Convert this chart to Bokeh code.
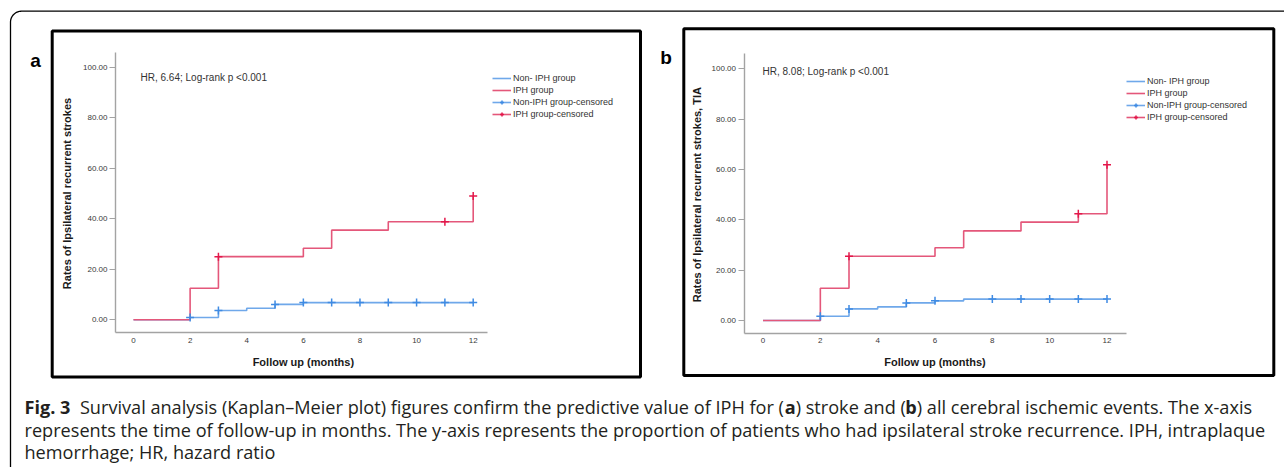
import os
import glob
import subprocess
import numpy as np
from bokeh.plotting import figure
from bokeh.models import (Range1d, LinearAxis, FixedTicker, PrintfTickFormatter,
                          Legend, LegendItem, BoxAnnotation)
from bokeh.core.properties import value
from bokeh.embed import file_html
from bokeh.resources import INLINE

# ---------------- data ----------------
x_ticks = [0, 2, 4, 6, 8, 10, 12]
y_ticks = [0, 20, 40, 60, 80, 100]

# panel a : stroke
a_non_t = [0, 2, 3, 4, 5, 6, 12]
a_non_v = [0.0, 0.9, 3.7, 4.6, 6.1, 6.8, 6.8]
a_iph_t = [0, 2, 3, 6, 7, 9, 12]
a_iph_v = [0.0, 12.5, 25.0, 28.3, 35.5, 38.8, 49.0]
a_non_cens_t = [2, 3, 5, 6, 7, 8, 9, 10, 11, 12]
a_non_cens_v = [0.9, 3.7, 6.1, 6.8, 6.8, 6.8, 6.8, 6.8, 6.8, 6.8]
a_iph_cens_t = [3, 11, 12]
a_iph_cens_v = [25.0, 38.8, 49.0]

# panel b : stroke + TIA
b_non_t = [0, 2, 3, 4, 5, 6, 7, 12]
b_non_v = [0.0, 1.7, 4.6, 5.4, 7.0, 7.8, 8.5, 8.5]
b_iph_t = [0, 2, 3, 6, 7, 9, 11, 12]
b_iph_v = [0.0, 12.8, 25.5, 28.9, 35.6, 39.1, 42.4, 61.9]
b_non_cens_t = [2, 3, 5, 6, 8, 9, 10, 11, 12]
b_non_cens_v = [1.7, 4.6, 7.0, 7.8, 8.5, 8.5, 8.5, 8.5, 8.5]
b_iph_cens_t = [3, 11, 12]
b_iph_cens_v = [25.5, 42.4, 61.9]

panel_letters = ["a", "b"]
x_label = "Follow up (months)"
y_label_a = "Rates of Ipsilateral recurrent strokes"
y_label_b = "Rates of Ipsilateral recurrent strokes, TIA"
stat_a = "HR, 6.64; Log-rank p <0.001"
stat_b = "HR, 8.08; Log-rank p <0.001"
legend_labels = ["Non- IPH group", "IPH group", "Non-IPH group-censored", "IPH group-censored"]

caption_line1 = ["Fig. 3",
                 "Survival analysis (Kaplan\u2013Meier plot) figures confirm the predictive value of IPH for (",
                 "a", ") stroke and (", "b", ") all cerebral ischemic events. The x-axis"]
caption_line1_bold = [True, False, True, False, True, False]
caption_line2 = ("represents the time of follow-up in months. The y-axis represents the proportion "
                 "of patients who had ipsilateral stroke recurrence. IPH, intraplaque")
caption_line3 = "hemorrhage; HR, hazard ratio"

# ---------------- styles / geometry ----------------
BLUE_LINE = "#6fa8ea"
RED_LINE = "#e4577a"
BLUE_CENS = "#3f8be3"
RED_CENS = "#e3174a"
AXIS_GRAY = "#a3a3a3"
TXT = "#333333"
CAP_TXT = "#231f20"
PLOT_FONT = "Liberation Sans"
CAP_FONT = "Open Sans"

W, H = 1284, 467
PX0, PY0 = 0, 0          # picture offset of the canvas

GEO = {
    "a": dict(x0=133.0, x12=472.7, y0=319.3, y100=66.7, axis_x=115.0, axis_y=332.3,
              axis_top=52.0, axis_right=487.0, box=(51.7, 30.5, 640.0, 376.5),
              letter=(35.0, 60.0), stat=(140.0, 77.0), legend=(492.0, 73.3),
              ylab_x=66.5, xlab_y=361.7),
    "b": dict(x0=762.5, x12=1106.5, y0=320.0, y100=68.3, axis_x=743.5, axis_y=332.7,
              axis_top=53.0, axis_right=1125.7, box=(683.3, 28.3, 1273.3, 375.0),
              letter=(665.5, 57.0), stat=(762.0, 70.7), legend=(1126.0, 75.7),
              ylab_x=696.0, xlab_y=361.7),
}

p = figure(width=W, height=H, x_range=Range1d(PX0, PX0 + W), y_range=Range1d(PY0 + H, PY0),
           x_axis_type=None, y_axis_type=None, output_backend="svg", toolbar_location=None,
           min_border=0, outline_line_color=None, background_fill_color="white",
           border_fill_color="white")
p.grid.visible = False

# outer rounded frame (top + left edge)
r = 11.0
fx, fy = 10.0, 10.7
t = np.linspace(np.pi, 1.5 * np.pi, 24)
fxs = [fx] + list(fx + r + r * np.cos(t)) + [PX0 + W]
fys = [PY0 + H] + list(fy + r + r * np.sin(t)) + [fy]
p.line(fxs, fys, line_color="black", line_width=1.3)


def lin_range(d0, p0, d1, p1, q0, q1):
    k = (d1 - d0) / (p1 - p0)
    return Range1d(start=d0 + (q0 - p0) * k, end=d0 + (q1 - p0) * k)


def p2d(d0, p0, d1, p1, q):
    return d0 + (q - p0) * (d1 - d0) / (p1 - p0)


def style_axis(ax):
    ax.axis_line_color = AXIS_GRAY
    ax.axis_line_width = 1.4
    ax.major_tick_line_color = AXIS_GRAY
    ax.major_tick_line_width = 1
    ax.minor_tick_line_color = None
    ax.major_label_text_font = PLOT_FONT
    ax.major_label_text_font_size = "8px"
    ax.major_label_text_color = "#3a3a3a"


panels = [
    ("a", a_non_t, a_non_v, a_iph_t, a_iph_v, a_non_cens_t, a_non_cens_v,
     a_iph_cens_t, a_iph_cens_v, y_label_a, stat_a),
    ("b", b_non_t, b_non_v, b_iph_t, b_iph_v, b_non_cens_t, b_non_cens_v,
     b_iph_cens_t, b_iph_cens_v, y_label_b, stat_b),
]

extra_x, extra_y = {}, {}
for key, *_ in panels:
    g = GEO[key]
    extra_x["x" + key] = lin_range(0, g["x0"], 12, g["x12"], PX0, PX0 + W)
    extra_y["y" + key] = lin_range(0, g["y0"], 100, g["y100"], PY0 + H, PY0)
p.extra_x_ranges = extra_x
p.extra_y_ranges = extra_y

for i, (key, nt, nv, it, iv, nct, ncv, ict, icv, ylab, stat) in enumerate(panels):
    g = GEO[key]
    xr, yr = "x" + key, "y" + key

    def dx(q, g=g):
        return p2d(0, g["x0"], 12, g["x12"], q)

    def dy(q, g=g):
        return p2d(0, g["y0"], 100, g["y100"], q)

    # panel box
    L, T, R, B = g["box"]
    p.add_layout(BoxAnnotation(left=L, right=R, top=T, bottom=B, fill_alpha=0,
                               line_color="black", line_alpha=1.0, line_width=3))

    # axes
    xa = LinearAxis(x_range_name=xr, y_range_name=yr, fixed_location=dy(g["axis_y"]),
                    bounds=(dx(g["axis_x"]), dx(g["axis_right"])),
                    ticker=FixedTicker(ticks=x_ticks))
    style_axis(xa)
    xa.major_tick_out = 0
    xa.major_tick_in = 0
    xa.major_label_standoff = 5
    p.add_layout(xa, "below")

    ya = LinearAxis(x_range_name=xr, y_range_name=yr, fixed_location=dx(g["axis_x"]),
                    bounds=(dy(g["axis_y"]), dy(g["axis_top"])),
                    ticker=FixedTicker(ticks=y_ticks),
                    formatter=PrintfTickFormatter(format="%.2f"))
    style_axis(ya)
    ya.major_tick_out = 6
    ya.major_tick_in = 0
    ya.major_label_standoff = 2
    p.add_layout(ya, "left")

    # curves
    r_non = p.step(nt, nv, mode="after", line_color=BLUE_LINE, line_width=1.6,
                   x_range_name=xr, y_range_name=yr)
    r_iph = p.step(it, iv, mode="after", line_color=RED_LINE, line_width=1.6,
                   x_range_name=xr, y_range_name=yr)
    r_nc = p.scatter(nct, ncv, marker="cross", size=8, line_color=BLUE_CENS, line_width=1.5,
                     x_range_name=xr, y_range_name=yr)
    r_ic = p.scatter(ict, icv, marker="cross", size=8, line_color=RED_CENS, line_width=1.5,
                     x_range_name=xr, y_range_name=yr)

    # texts
    lx, ly = g["letter"]
    p.text(x=[lx], y=[ly], text=[panel_letters[i]], text_font=value(PLOT_FONT),
           text_font_style="bold", text_font_size="19px", text_color="black",
           text_align="center", text_baseline="alphabetic")
    sx, sy = g["stat"]
    p.text(x=[sx], y=[sy], text=[stat], text_font=value(PLOT_FONT), text_font_size="10px",
           text_color=TXT, text_align="left", text_baseline="middle")
    p.text(x=[(g["x0"] + g["x12"]) / 2], y=[g["xlab_y"]], text=[x_label],
           text_font=value(PLOT_FONT), text_font_style="bold", text_font_size="11px",
           text_color="#1a1a1a", text_align="center", text_baseline="middle")
    p.text(x=[g["ylab_x"]], y=[(g["y0"] + g["y100"]) / 2], text=[ylab],
           text_font=value(PLOT_FONT), text_font_style="bold", text_font_size="11px",
           text_color="#1a1a1a", text_align="center", text_baseline="middle",
           angle=np.pi / 2)

    # legend
    row_h, spacing = 10, 2
    leg_h = 4 * row_h + 3 * spacing
    lgx, lgy = g["legend"]
    items = [LegendItem(label=legend_labels[0], renderers=[r_non]),
             LegendItem(label=legend_labels[1], renderers=[r_iph]),
             LegendItem(label=legend_labels[2], renderers=[r_non, r_nc]),
             LegendItem(label=legend_labels[3], renderers=[r_iph, r_ic])]
    leg = Legend(items=items, location=(lgx - PX0, (PY0 + H) - (lgy + leg_h)),
                 orientation="vertical", border_line_color=None, background_fill_alpha=0,
                 label_text_font=PLOT_FONT, label_text_font_size="9px", label_text_color=TXT,
                 glyph_width=19, glyph_height=row_h, label_height=row_h, label_standoff=2,
                 spacing=spacing, padding=0, margin=0)
    p.add_layout(leg)


# ---------------- caption ----------------
def _font_file(bold):
    names = (["OpenSans-Bold.ttf", "OpenSans-Bold.otf"] if bold else
             ["OpenSans-Regular.ttf", "OpenSans-Regular.otf"])
    for d in ["/usr/share/fonts", "/usr/local/share/fonts", os.path.expanduser("~/.fonts")]:
        for n in names:
            c = glob.glob(os.path.join(d, "**", n), recursive=True)
            if c:
                return c[0], False
    try:
        out = subprocess.run(["fc-match", "-f", "%{file}", "Open Sans:bold" if bold else "Open Sans"],
                             capture_output=True, text=True, timeout=10).stdout.strip()
        if out and os.path.exists(out):
            return out, bold
    except Exception:
        pass
    return None, False


def make_measure(bold):
    try:
        from PIL import ImageFont
        path, var = _font_file(bold)
        font = ImageFont.truetype(path, 100)
        if var:
            try:
                font.set_variation_by_name("Bold")
            except Exception:
                pass
        return lambda s, size: font.getlength(s) * size / 100.0
    except Exception:
        return lambda s, size: len(s) * (0.49 if bold else 0.455) * size


m_reg, m_bold = make_measure(False), make_measure(True)
cap_left, cap_right = 24.0, 1262.0


def line1_width(size):
    w = sum((m_bold if b else m_reg)(s, size) for s, b in zip(caption_line1, caption_line1_bold))
    return w + 2 * m_reg(" ", size)


base = 100.0
cap_size = (cap_right - cap_left) / max(line1_width(base), m_reg(caption_line2, base)) * base
cap_size = float(min(18.2, max(14.0, cap_size)))

xs1, x = [], cap_left
for j, (s, b) in enumerate(zip(caption_line1, caption_line1_bold)):
    xs1.append(x)
    x += (m_bold if b else m_reg)(s, cap_size)
    if j == 0:
        x += 2 * m_reg(" ", cap_size)

bold_idx = [j for j, b in enumerate(caption_line1_bold) if b]
reg_idx = [j for j, b in enumerate(caption_line1_bold) if not b]
base1, base2, base3 = 406.0, 429.0, 451.5
p.text(x=[xs1[j] for j in bold_idx], y=[base1] * len(bold_idx),
       text=[caption_line1[j] for j in bold_idx], text_font=value(CAP_FONT),
       text_font_style="bold", text_font_size="%.2fpx" % cap_size, text_color=CAP_TXT,
       text_align="left", text_baseline="alphabetic")
p.text(x=[xs1[j] for j in reg_idx] + [cap_left, cap_left],
       y=[base1] * len(reg_idx) + [base2, base3],
       text=[caption_line1[j] for j in reg_idx] + [caption_line2, caption_line3],
       text_font=value(CAP_FONT), text_font_size="%.2fpx" % cap_size, text_color=CAP_TXT,
       text_align="left", text_baseline="alphabetic")

open("out.html", "w").write(file_html(p, INLINE))
